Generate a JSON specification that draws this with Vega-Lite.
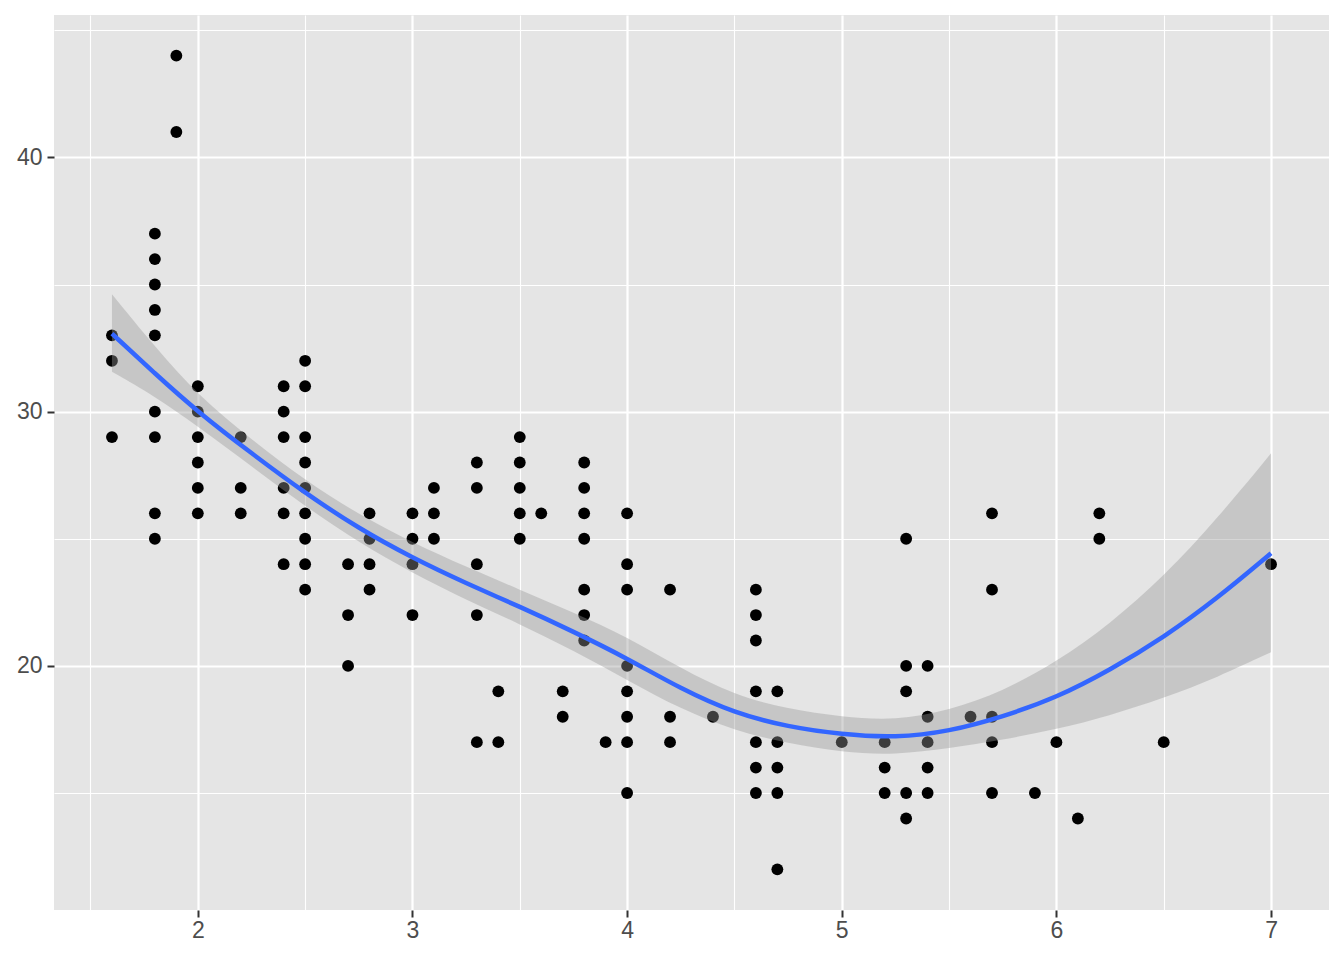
{
  "$schema": "https://vega.github.io/schema/vega-lite/v6.json",
  "autosize": "none",
  "width": 1275,
  "height": 895,
  "padding": {"left": 54, "top": 15, "right": 15, "bottom": 50},
  "background": "white",
  "view": {"fill": "#E5E5E5", "stroke": null},
  "config": {
    "axis": {
      "domain": false,
      "title": null,
      "labelFont": "Liberation Sans",
      "labelFontSize": 23,
      "labelColor": "#4D4D4D",
      "tickColor": "#333333",
      "tickWidth": 2,
      "tickSize": 7,
      "gridColor": "white"
    }
  },
  "datasets": {
    "pts": [
      {"displ": 1.6, "hwy": 33}, {"displ": 1.6, "hwy": 32}, {"displ": 1.6, "hwy": 29},
      {"displ": 1.8, "hwy": 37}, {"displ": 1.8, "hwy": 36}, {"displ": 1.8, "hwy": 35}, {"displ": 1.8, "hwy": 34}, {"displ": 1.8, "hwy": 33}, {"displ": 1.8, "hwy": 30}, {"displ": 1.8, "hwy": 29}, {"displ": 1.8, "hwy": 26}, {"displ": 1.8, "hwy": 25},
      {"displ": 1.9, "hwy": 44}, {"displ": 1.9, "hwy": 41},
      {"displ": 2.0, "hwy": 31}, {"displ": 2.0, "hwy": 30}, {"displ": 2.0, "hwy": 29}, {"displ": 2.0, "hwy": 28}, {"displ": 2.0, "hwy": 27}, {"displ": 2.0, "hwy": 26},
      {"displ": 2.2, "hwy": 29}, {"displ": 2.2, "hwy": 27}, {"displ": 2.2, "hwy": 26},
      {"displ": 2.4, "hwy": 31}, {"displ": 2.4, "hwy": 30}, {"displ": 2.4, "hwy": 29}, {"displ": 2.4, "hwy": 27}, {"displ": 2.4, "hwy": 26}, {"displ": 2.4, "hwy": 24},
      {"displ": 2.5, "hwy": 32}, {"displ": 2.5, "hwy": 31}, {"displ": 2.5, "hwy": 29}, {"displ": 2.5, "hwy": 28}, {"displ": 2.5, "hwy": 27}, {"displ": 2.5, "hwy": 26}, {"displ": 2.5, "hwy": 25}, {"displ": 2.5, "hwy": 24}, {"displ": 2.5, "hwy": 23},
      {"displ": 2.7, "hwy": 24}, {"displ": 2.7, "hwy": 22}, {"displ": 2.7, "hwy": 20},
      {"displ": 2.8, "hwy": 26}, {"displ": 2.8, "hwy": 25}, {"displ": 2.8, "hwy": 24}, {"displ": 2.8, "hwy": 23},
      {"displ": 3.0, "hwy": 26}, {"displ": 3.0, "hwy": 25}, {"displ": 3.0, "hwy": 24}, {"displ": 3.0, "hwy": 22},
      {"displ": 3.1, "hwy": 27}, {"displ": 3.1, "hwy": 26}, {"displ": 3.1, "hwy": 25},
      {"displ": 3.3, "hwy": 28}, {"displ": 3.3, "hwy": 27}, {"displ": 3.3, "hwy": 24}, {"displ": 3.3, "hwy": 22}, {"displ": 3.3, "hwy": 17},
      {"displ": 3.4, "hwy": 19}, {"displ": 3.4, "hwy": 17},
      {"displ": 3.5, "hwy": 29}, {"displ": 3.5, "hwy": 28}, {"displ": 3.5, "hwy": 27}, {"displ": 3.5, "hwy": 26}, {"displ": 3.5, "hwy": 25},
      {"displ": 3.6, "hwy": 26},
      {"displ": 3.7, "hwy": 19}, {"displ": 3.7, "hwy": 18},
      {"displ": 3.8, "hwy": 28}, {"displ": 3.8, "hwy": 27}, {"displ": 3.8, "hwy": 26}, {"displ": 3.8, "hwy": 25}, {"displ": 3.8, "hwy": 23}, {"displ": 3.8, "hwy": 22}, {"displ": 3.8, "hwy": 21},
      {"displ": 3.9, "hwy": 17},
      {"displ": 4.0, "hwy": 26}, {"displ": 4.0, "hwy": 24}, {"displ": 4.0, "hwy": 23}, {"displ": 4.0, "hwy": 20}, {"displ": 4.0, "hwy": 19}, {"displ": 4.0, "hwy": 18}, {"displ": 4.0, "hwy": 17}, {"displ": 4.0, "hwy": 15},
      {"displ": 4.2, "hwy": 23}, {"displ": 4.2, "hwy": 18}, {"displ": 4.2, "hwy": 17},
      {"displ": 4.4, "hwy": 18},
      {"displ": 4.6, "hwy": 23}, {"displ": 4.6, "hwy": 22}, {"displ": 4.6, "hwy": 21}, {"displ": 4.6, "hwy": 19}, {"displ": 4.6, "hwy": 17}, {"displ": 4.6, "hwy": 16}, {"displ": 4.6, "hwy": 15},
      {"displ": 4.7, "hwy": 19}, {"displ": 4.7, "hwy": 17}, {"displ": 4.7, "hwy": 16}, {"displ": 4.7, "hwy": 15}, {"displ": 4.7, "hwy": 12},
      {"displ": 5.0, "hwy": 17},
      {"displ": 5.2, "hwy": 17}, {"displ": 5.2, "hwy": 16}, {"displ": 5.2, "hwy": 15},
      {"displ": 5.3, "hwy": 25}, {"displ": 5.3, "hwy": 20}, {"displ": 5.3, "hwy": 19}, {"displ": 5.3, "hwy": 15}, {"displ": 5.3, "hwy": 14},
      {"displ": 5.4, "hwy": 20}, {"displ": 5.4, "hwy": 18}, {"displ": 5.4, "hwy": 17}, {"displ": 5.4, "hwy": 16}, {"displ": 5.4, "hwy": 15},
      {"displ": 5.6, "hwy": 18},
      {"displ": 5.7, "hwy": 26}, {"displ": 5.7, "hwy": 23}, {"displ": 5.7, "hwy": 18}, {"displ": 5.7, "hwy": 17}, {"displ": 5.7, "hwy": 15},
      {"displ": 5.9, "hwy": 15},
      {"displ": 6.0, "hwy": 17},
      {"displ": 6.1, "hwy": 14},
      {"displ": 6.2, "hwy": 26}, {"displ": 6.2, "hwy": 25},
      {"displ": 6.5, "hwy": 17},
      {"displ": 7.0, "hwy": 24}
    ],
    "smooth": [
      {"displ": 1.6, "fit": 33.07, "lo": 31.57, "hi": 34.62},
      {"displ": 1.8, "fit": 31.5, "lo": 30.6, "hi": 32.55},
      {"displ": 2.0, "fit": 29.99, "lo": 29.42, "hi": 30.65},
      {"displ": 2.25, "fit": 28.36, "lo": 27.85, "hi": 28.9},
      {"displ": 2.5, "fit": 26.8, "lo": 26.28, "hi": 27.3},
      {"displ": 2.75, "fit": 25.4, "lo": 24.85, "hi": 25.95},
      {"displ": 3.0, "fit": 24.25, "lo": 23.65, "hi": 24.85},
      {"displ": 3.25, "fit": 23.25, "lo": 22.6, "hi": 23.9},
      {"displ": 3.5, "fit": 22.33, "lo": 21.65, "hi": 23.0},
      {"displ": 3.75, "fit": 21.35, "lo": 20.6, "hi": 22.1},
      {"displ": 4.0, "fit": 20.3, "lo": 19.45, "hi": 21.15},
      {"displ": 4.25, "fit": 19.1, "lo": 18.3, "hi": 19.9},
      {"displ": 4.5, "fit": 18.14, "lo": 17.45, "hi": 18.85},
      {"displ": 4.75, "fit": 17.6, "lo": 16.95, "hi": 18.3},
      {"displ": 5.0, "fit": 17.3, "lo": 16.6, "hi": 18.0},
      {"displ": 5.25, "fit": 17.17, "lo": 16.5, "hi": 17.85},
      {"displ": 5.5, "fit": 17.42, "lo": 16.75, "hi": 18.25},
      {"displ": 5.75, "fit": 18.0, "lo": 17.1, "hi": 19.0},
      {"displ": 6.0, "fit": 18.75, "lo": 17.5, "hi": 20.15},
      {"displ": 6.25, "fit": 19.84, "lo": 18.05, "hi": 21.65},
      {"displ": 6.5, "fit": 21.12, "lo": 18.73, "hi": 23.51},
      {"displ": 6.75, "fit": 22.66, "lo": 19.55, "hi": 25.8},
      {"displ": 7.0, "fit": 24.43, "lo": 20.54, "hi": 28.36}
    ]
  },
  "layer": [
    {
      "data": {"name": "pts"},
      "mark": {"type": "point", "filled": true, "color": "black", "opacity": 1, "size": 140, "strokeWidth": 0},
      "encoding": {
        "x": {
          "field": "displ", "type": "quantitative",
          "scale": {"domain": [1.33, 7.27], "nice": false, "zero": false},
          "axis": {
            "values": [1.5, 2, 2.5, 3, 3.5, 4, 4.5, 5, 5.5, 6, 6.5, 7],
            "labelExpr": "datum.value % 1 === 0 ? format(datum.value, 'd') : ''",
            "labelPadding": 2,
            "tickOpacity": {"condition": {"test": "datum.value % 1 !== 0", "value": 0}, "value": 1},
            "gridWidth": {"condition": {"test": "datum.value % 1 !== 0", "value": 1.1}, "value": 2.2}
          }
        },
        "y": {
          "field": "hwy", "type": "quantitative",
          "scale": {"domain": [10.4, 45.6], "nice": false, "zero": false},
          "axis": {
            "values": [15, 20, 25, 30, 35, 40, 45],
            "labelExpr": "datum.value % 10 === 0 ? format(datum.value, 'd') : ''",
            "labelPadding": 5,
            "tickOpacity": {"condition": {"test": "datum.value % 10 !== 0", "value": 0}, "value": 1},
            "gridWidth": {"condition": {"test": "datum.value % 10 !== 0", "value": 1.1}, "value": 2.2}
          }
        }
      }
    },
    {
      "data": {"name": "smooth"},
      "mark": {"type": "area", "color": "#999999", "opacity": 0.4, "interpolate": "basis"},
      "encoding": {
        "x": {"field": "displ", "type": "quantitative"},
        "y": {"field": "lo", "type": "quantitative"},
        "y2": {"field": "hi"}
      }
    },
    {
      "data": {"name": "smooth"},
      "mark": {"type": "line", "color": "#3366FF", "strokeWidth": 4.5, "interpolate": "basis"},
      "encoding": {
        "x": {"field": "displ", "type": "quantitative"},
        "y": {"field": "fit", "type": "quantitative"}
      }
    }
  ]
}
